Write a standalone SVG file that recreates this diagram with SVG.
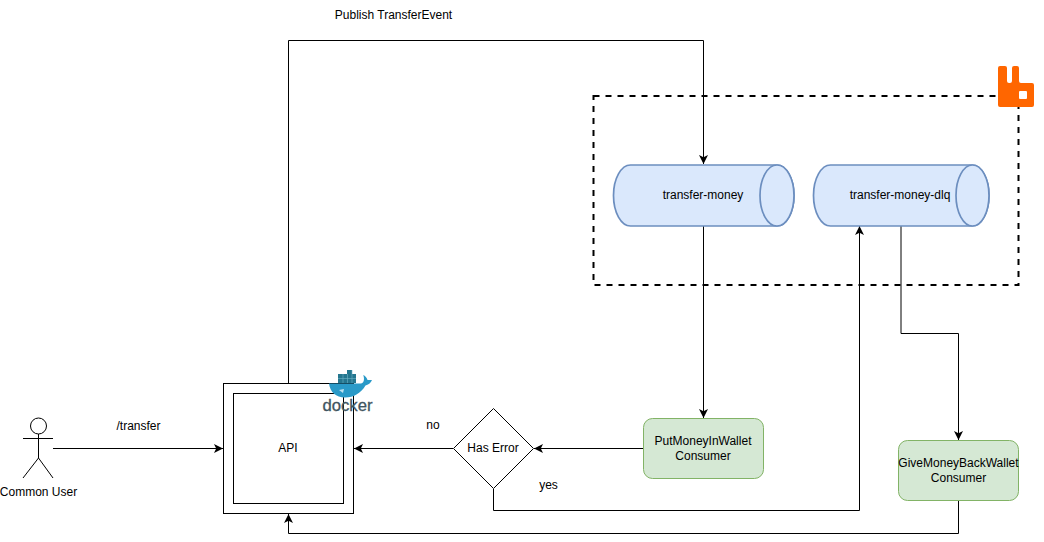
<svg xmlns="http://www.w3.org/2000/svg" width="1044" height="542" viewBox="0 0 1044 542">
<style>
text{font-family:"Liberation Sans",Arial,sans-serif;font-size:12px;fill:#000;text-anchor:middle}
.e{fill:none;stroke:#000;stroke-width:1}
.c{fill:#dae8fc;stroke:#6c8ebf;stroke-width:1.700}
.g{fill:#d5e8d4;stroke:#82b366;stroke-width:1}
.b{fill:#fff;stroke:#000;stroke-width:1}
</style>
<defs><marker id="a" markerWidth="10" markerHeight="10" refX="9" refY="4.500" orient="auto" markerUnits="userSpaceOnUse"><path d="M0 0L9 4.500L0 9L2.200 4.500Z" fill="#000"/></marker></defs>
<rect width="1044" height="542" fill="#fff"/>
<g id="rabbit-boundary"><rect x="593.500" y="96" width="425" height="189" fill="none" stroke="#000" stroke-width="2" stroke-dasharray="6 6"/></g>
<g id="connectors">
<path class="e" marker-end="url(#a)" d="M53 448.500H223"/>
<path class="e" marker-end="url(#a)" d="M288.500 383V40.500H703.500V164"/>
<path class="e" marker-end="url(#a)" d="M703.500 226V418"/>
<path class="e" marker-end="url(#a)" d="M643 448.500H534"/>
<path class="e" marker-end="url(#a)" d="M453 448.500H354"/>
<path class="e" marker-end="url(#a)" d="M493.500 489V510.500H859.500V226"/>
<path class="e" marker-end="url(#a)" d="M901 226V333.500H958.500V440"/>
<path class="e" marker-end="url(#a)" d="M958.500 501V533.500H288.500V514"/>
</g>
<g id="user"><circle cx="38.500" cy="426" r="8" class="b"/><path class="e" d="M38.500 434V458M23 438.500H53M38.500 458L23 478M38.500 458L53 478"/><text x="38.500" y="496">Common User</text></g>
<g id="api"><rect class="b" x="223.500" y="383.500" width="130" height="130"/><rect class="b" x="233.500" y="393.500" width="110" height="110"/><text x="288" y="452">API</text></g>
<g id="docker">
<path fill="#2a9ac8" d="M329 383.500H361C363 383.500 364 381 364 379C364 376.500 363 375 363.500 375C365.500 376 367 378 367.500 380L372 380C371 383 368 385 365.500 385.500C361 393 354 397.500 345 397.500C336 397.500 330 392 329 383.500Z"/>
<path fill="#24768f" d="M338 383V374H347V370H352V374H356V383Z"/>
<path fill="none" stroke="#6fb3c6" stroke-width=".6" d="M338 378.500H356M343 374V383M347.500 374V383M352 370V383"/>
<path fill="#fff" opacity=".7" d="M339 390L344 389L343 393Z"/>
<text x="347.500" y="411" textLength="50" lengthAdjust="spacingAndGlyphs" style="font-size:16px;fill:#3f5560;stroke:#3f5560;stroke-width:.3">docker</text>
</g>
<g id="rabbit"><path fill="#ff6600" d="M998 68Q998 66 1000 66H1005Q1007 66 1007 68V81Q1007 83 1009 83H1010Q1012 83 1012 81V68Q1012 66 1014 66H1017Q1019 66 1019 68V81Q1019 83 1021 83H1032Q1034 83 1034 85V105Q1034 107 1032 107H1000Q998 107 998 105Z"/><rect x="1019" y="91" width="8" height="8" rx="1" fill="#fff"/></g>
<g id="transfer-money"><path class="c" d="M630.500 165H777A17 30.500 0 0 1 777 226H630.500A17 30.500 0 0 1 630.500 165Z"/><ellipse class="c" cx="777" cy="195.500" rx="17" ry="30.500"/><text x="703" y="199">transfer-money</text></g>
<g id="transfer-money-dlq"><path class="c" d="M830.500 165H972A17 30.500 0 0 1 972 226H830.500A17 30.500 0 0 1 830.500 165Z"/><ellipse class="c" cx="972.500" cy="195.500" rx="16.500" ry="30.500"/><text x="900" y="199">transfer-money-dlq</text></g>
<g id="consumer1"><rect class="g" x="643.500" y="418.500" width="120" height="60" rx="9"/><text x="703" y="445">PutMoneyInWallet</text><text x="703" y="460">Consumer</text></g>
<g id="consumer2"><rect class="g" x="898.500" y="440.500" width="120" height="60" rx="9"/><text x="958.500" y="467">GiveMoneyBackWallet</text><text x="958.500" y="482">Consumer</text></g>
<g id="has-error"><path class="b" d="M493.500 408.500L533.500 448.500L493.500 488.500L453.500 448.500Z"/><text x="493" y="452">Has Error</text></g>
<g id="labels"><text x="393.500" y="19">Publish TransferEvent</text><text x="138.500" y="430">/transfer</text><text x="433" y="429">no</text><text x="548.500" y="489">yes</text></g>
</svg>
